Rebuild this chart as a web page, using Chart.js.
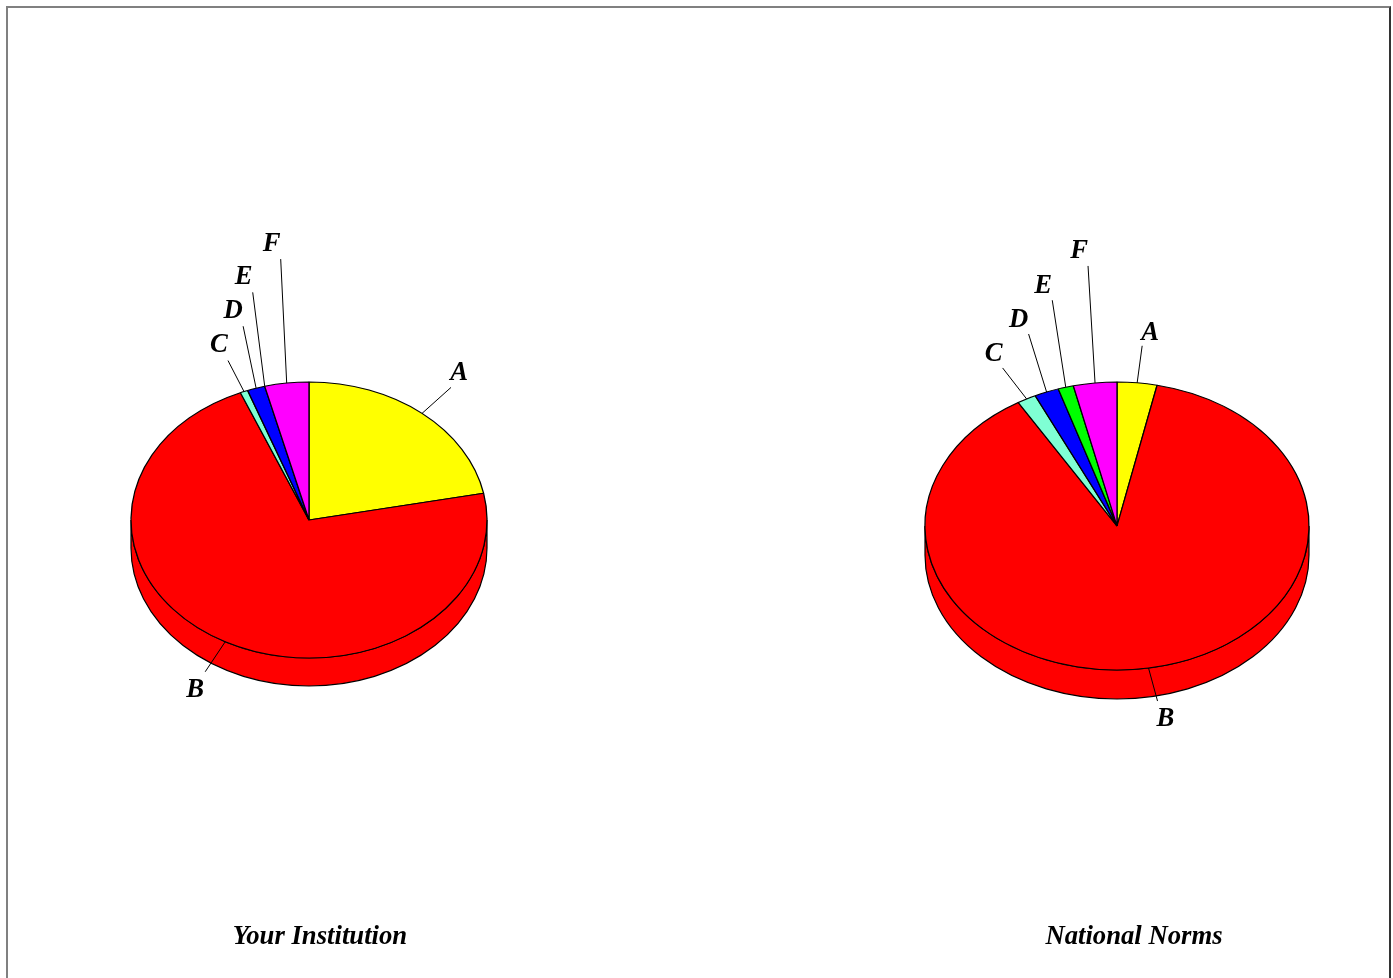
<!DOCTYPE html>
<html>
<head>
<meta charset="utf-8">
<title>Your Institution / National Norms</title>
<script src="https://cdn.jsdelivr.net/npm/chart.js@4"></script>
<style>
  html, body { margin: 0; padding: 0; background: #fff; overflow: hidden; width: 1393px; height: 978px; }
  #frame { position: absolute; left: 6px; top: 6px; width: 1381px; height: 990px;
    border-left: 2px solid #808080; border-top: 2px solid #808080; border-right: 2px solid #333; }
  canvas { position: absolute; }
</style>
</head>
<body>
<div id="frame"></div>
<canvas id="pieLeft" style="left:0;top:62px"></canvas>
<canvas id="pieRight" style="left:841px;top:74px"></canvas>
<script>
// grade share, percent
const grades = ['A', 'B', 'C', 'D', 'E', 'F'];
const institutionValues = [21.9, 71.8, 0.7, 1.6, 0, 4.0];
const nationalValues = [3.35, 88.05, 1.6, 2.05, 1.3, 3.65];
const sliceColors = ['#ffff00', '#ff0000', '#7fffd4', '#0000ff', '#00ff00', '#ff00ff'];

const labelFont = 'italic bold 26.7px "Liberation Serif"';

// tilted pie: draws the arcs squashed and adds the rim + leader lines
const tiltPlugin = {
  id: 'tilt',
  beforeDatasetsDraw(chart, args, opts) {
    const ctx = chart.ctx;
    const arcs = chart.getDatasetMeta(0).data;
    const cx = arcs[0].x, cy = arcs[0].y, rx = arcs[0].outerRadius, ry = rx * opts.squash;

    // rim, only the front half shows
    arcs.forEach((arc) => {
      const lo = Math.max(arc.startAngle, 0);
      const hi = Math.min(arc.endAngle, Math.PI);
      if (hi <= lo) return;
      ctx.beginPath();
      ctx.ellipse(cx, cy, rx, ry, 0, lo, hi);
      ctx.ellipse(cx, cy + opts.depth, rx, ry, 0, hi, lo, true);
      ctx.closePath();
      ctx.fillStyle = arc.options.backgroundColor;
      ctx.fill();
      ctx.strokeStyle = '#000';
      ctx.lineWidth = 1.2;
      ctx.stroke();
    });

    ctx.save();
    ctx.translate(cx, cy);
    ctx.scale(1, opts.squash);
    ctx.translate(-cx, -cy);
  },
  afterDatasetsDraw(chart, args, opts) {
    const ctx = chart.ctx;
    ctx.restore();

    const arcs = chart.getDatasetMeta(0).data;
    const cx = arcs[0].x, cy = arcs[0].y;
    ctx.font = labelFont;
    ctx.textAlign = 'center';
    ctx.textBaseline = 'middle';

    arcs.forEach((arc, i) => {
      const mid = (arc.startAngle + arc.endAngle) / 2;
      const x0 = cx + Math.cos(mid) * arc.outerRadius;
      const y0 = cy + Math.sin(mid) * arc.outerRadius * opts.squash;
      const x1 = x0 + opts.leaders[i][0];
      const y1 = y0 + opts.leaders[i][1];
      ctx.beginPath();
      ctx.moveTo(x0, y0);
      ctx.lineTo(x1, y1);
      ctx.strokeStyle = '#000';
      ctx.lineWidth = 1;
      ctx.stroke();
      ctx.fillStyle = '#000';
      ctx.fillText(chart.data.labels[i], x1 + opts.labelShift[i][0], y1 + opts.labelShift[i][1]);
    });

    ctx.fillText(opts.caption, cx + opts.captionShift[0], cy + opts.captionShift[1]);
  }
};

function makePie(id, width, height, values, radius, tilt) {
  const canvas = document.getElementById(id);
  canvas.width = width;
  canvas.height = height;
  canvas.style.width = width + 'px';
  canvas.style.height = height + 'px';
  return new Chart(canvas, {
    type: 'pie',
    data: {
      labels: grades,
      datasets: [{
        data: values,
        backgroundColor: sliceColors,
        borderColor: '#000',
        borderWidth: 1.3
      }]
    },
    options: {
      responsive: false,
      animation: false,
      radius: radius,
      plugins: {
        legend: { display: false },
        tooltip: { enabled: false },
        tilt: tilt
      }
    },
    plugins: [tiltPlugin]
  });
}

makePie('pieLeft', 618, 916, institutionValues, 178, {
  squash: 138 / 178,
  depth: 28,
  caption: 'Your Institution',
  captionShift: [11, 417],
  leaders: [[29, -26], [-20, 30], [-16, -31], [-13, -62], [-12, -94], [-6, -124]],
  labelShift: [[8, -14], [-10, 18], [-9, -15], [-10, -15], [-9, -15], [-9, -15]]
});

makePie('pieRight', 552, 904, nationalValues, 192, {
  squash: 144 / 192,
  depth: 29,
  caption: 'National Norms',
  captionShift: [17, 411],
  leaders: [[5, -37], [9, 33], [-24, -31], [-18, -58], [-13.5, -87], [-7, -117]],
  labelShift: [[8, -13], [8, 18], [-9, -14], [-10, -14], [-9, -14], [-9, -15]]
});
</script>
</body>
</html>
